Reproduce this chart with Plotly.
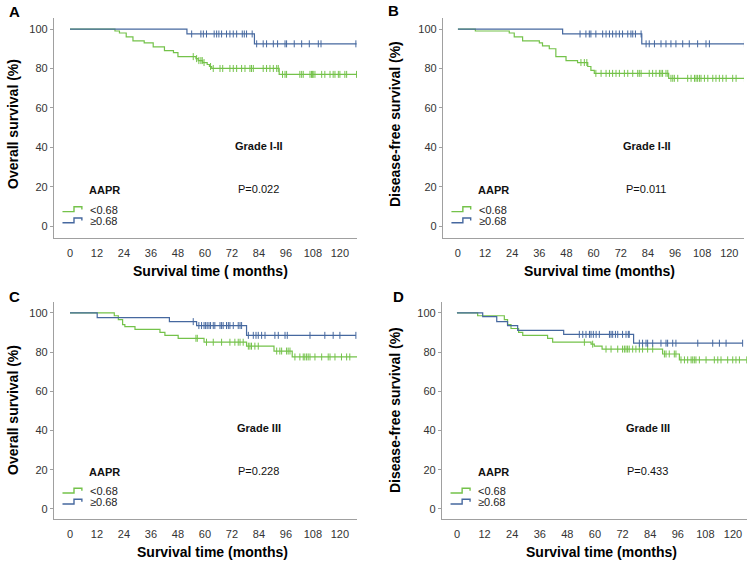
import numpy as np
import plotly.graph_objects as go

# ---- data (months, survival %) ----
# panel A: overall survival, grade I-II
a_low_t = [0, 20, 22, 25, 28, 33, 37, 42, 46, 48, 56, 57, 59, 61, 62, 63, 93]
a_low_s = [100, 99, 98, 96, 94, 93, 91, 89, 88, 86, 85, 84, 83, 82, 81, 80, 77]
a_low_end = 127.5
a_low_cens = [54.8, 56.3, 57.3, 58.2, 58.8, 59.6, 62.5, 63.7, 66.7, 67.9, 71.1, 72.6, 74.1, 76.3,
              77.8, 80.0, 80.7, 81.5, 85.9, 87.4, 88.9, 90.4, 91.9, 92.6, 94.5, 95.6, 96.3, 102.2,
              103.0, 103.7, 106.7, 107.4, 107.9, 108.1, 108.9, 111.9, 113.3, 115.6, 117.0, 117.8,
              119.3, 120.0, 122.2, 123.0, 127.4]
a_high_t = [0, 52, 82]
a_high_s = [100, 97.5, 92.5]
a_high_end = 127.4
a_high_cens = [54.1, 58.2, 59.3, 60.7, 64.1, 65.2, 66.2, 67.4, 69.6, 71.1, 72.6, 74.1, 76.6, 77.5,
               78.5, 81.0, 83.0, 85.9, 87.4, 90.4, 92.3, 95.6, 96.3, 99.7, 103.0, 106.4, 110.4,
               111.6, 127.1]

# panel B: disease-free survival, grade I-II
b_low_t = [0, 7.7, 22.7, 24.9, 28.6, 36, 37.4, 40.4, 43.3, 47.8, 52.9, 57.4, 58.8, 60.3, 93.2]
b_low_s = [100, 99, 98, 96, 94, 93, 91.5, 90, 86, 84, 83, 81, 79, 77.5, 75]
b_low_end = 126.9
b_low_cens = [54.4, 55.9, 57.0, 61.0, 63.3, 65.5, 67.0, 68.4, 69.9, 71.4, 73.6, 75.1, 77.3, 79.5,
              80.2, 81.0, 84.6, 86.1, 87.6, 89.1, 89.8, 90.5, 92.0, 92.8, 94.2, 95.0, 95.7, 97.2,
              101.6, 103.1, 104.6, 105.3, 106.0, 106.8, 107.5, 109.0, 110.5, 112.7, 114.1, 115.6,
              117.1, 118.6, 121.5, 123.0, 126.7]
b_high_t = [0, 46.3, 81.3]
b_high_s = [100, 97.5, 92.5]
b_high_end = 126.9
b_high_cens = [54.0, 56.6, 58.1, 58.8, 61.0, 64.0, 65.5, 67.0, 68.4, 69.9, 71.4, 72.8, 75.1, 76.5,
               77.3, 78.5, 81.0, 83.2, 84.6, 86.9, 89.8, 92.0, 94.2, 96.4, 99.4, 102.3, 106.0,
               109.7, 111.2, 126.7]

# panel C: overall survival, grade III
c_low_t = [0, 19.7, 21.5, 23.4, 24.4, 28.9, 40.0, 42.2, 48.1, 59.6, 78.5, 90.7, 98.8]
c_low_s = [100, 98.5, 96.5, 94, 93, 91.5, 90, 88.5, 87, 85, 83, 80.5, 77.5]
c_low_end = 128.6
c_low_cens = [56.0, 56.6, 60.7, 63.7, 67.4, 71.1, 73.3, 74.8, 75.6, 77.0, 79.3, 80.0, 80.7, 82.2,
              83.7, 91.9, 93.3, 94.1, 96.3, 97.0, 97.8, 100.0, 102.2, 103.7, 104.4, 105.2, 105.9,
              106.7, 108.9, 111.9, 114.8, 115.6, 117.8, 120.7, 123.0, 124.4]
c_high_t = [0, 12.1, 44.2, 56.3, 78.5]
c_high_s = [100, 97.5, 95.5, 93.5, 88.5]
c_high_end = 127.1
c_high_cens = [54.8, 57.3, 58.5, 59.6, 60.3, 61.0, 61.8, 62.5, 63.7, 64.4, 66.7, 67.4, 68.1, 69.6,
               70.4, 71.1, 72.6, 74.8, 75.6, 76.3, 79.3, 81.5, 82.7, 83.7, 85.2, 86.7, 91.1, 92.6,
               95.6, 96.6, 106.7, 113.3, 117.0, 120.0, 127.1]

# panel D: disease-free survival, grade III
d_low_t = [0, 9.0, 20.6, 22.0, 23.5, 26.8, 28.6, 39.4, 41.6, 58.3, 59.7, 63.1, 89.4, 96.7]
d_low_s = [100, 98.5, 96.5, 94, 92, 90, 88.5, 87, 85, 84, 83, 81.5, 79, 76]
d_low_end = 126.0
d_low_cens = [55.4, 59.0, 64.8, 67.0, 69.9, 72.0, 72.8, 73.5, 74.2, 74.9, 76.4, 77.8, 79.3, 80.7,
              82.9, 85.1, 90.2, 90.9, 92.3, 94.5, 95.2, 97.4, 98.9, 100.3, 101.8, 102.5, 103.2,
              103.9, 105.4, 108.3, 111.9, 113.4, 114.8, 117.7, 119.9, 121.3, 122.8, 126.0]
d_high_t = [0, 11.2, 17.3, 22.0, 26.4, 46.4, 76.8]
d_high_s = [100, 98, 95.5, 93.5, 91, 89, 84.5]
d_high_end = 124.2
d_high_cens = [53.2, 54.7, 56.1, 57.6, 58.3, 59.3, 60.5, 61.9, 66.3, 67.0, 67.7, 68.9, 69.9, 72.0,
               73.5, 74.5, 74.9, 79.3, 80.7, 82.2, 82.9, 85.1, 88.7, 90.9, 91.6, 93.8, 95.2, 104.7,
               111.2, 114.1, 117.0, 124.2]

letters = ["A", "B", "C", "D"]
y_titles = ["Overall survival (%)", "Disease-free survival (%)",
            "Overall survival (%)", "Disease-free survival (%)"]
x_titles = ["Survival time ( months)", "Survival time (months)",
            "Survival time (months)", "Survival time (months)"]
grades = ["Grade I-II", "Grade I-II", "Grade III", "Grade III"]
p_values = ["P=0.022", "P=0.011", "P=0.228", "P=0.433"]
groups = ["<0.68", "≥0.68"]
x_ticks = list(range(0, 121, 12))
y_ticks = [0, 20, 40, 60, 80, 100]

GREEN = "#74c24a"
BLUE = "#46689f"
FONT = "Arial, Liberation Sans, sans-serif"
W, H = 753, 565

curves = [
    [(a_low_t, a_low_s, a_low_end, a_low_cens), (a_high_t, a_high_s, a_high_end, a_high_cens)],
    [(b_low_t, b_low_s, b_low_end, b_low_cens), (b_high_t, b_high_s, b_high_end, b_high_cens)],
    [(c_low_t, c_low_s, c_low_end, c_low_cens), (c_high_t, c_high_s, c_high_end, c_high_cens)],
    [(d_low_t, d_low_s, d_low_end, d_low_cens), (d_high_t, d_high_s, d_high_end, d_high_cens)],
]

# pixel boxes of each plot area: left, right, top, bottom
boxes = [(54, 357, 18, 238), (443, 744, 18, 238), (54, 357, 302, 519), (442, 747, 302, 519)]
x_ranges = [[-7.1, 127.6], [-6.6, 126.5], [-7.1, 127.6], [-6.5, 126.1]]
y_ranges = [[-6, 105.6], [-6, 105.6], [-5.1, 105.5], [-5.1, 105.5]]
letter_pos = [(14, 12), (393, 10), (14, 296), (398, 296)]
ytitle_x = [13, 395, 13, 395]
ytitle_y = [124, 124, 410, 410]
xtitle_pos = [(211, 271), (599, 271), (212, 552), (601, 552)]

fig = go.Figure()
annotations = []
shapes = []


def step_value(t, s, x):
    i = np.searchsorted(np.array(t), x, side="right") - 1
    return s[i]


for k in range(4):
    xa = "x" if k == 0 else "x%d" % (k + 1)
    ya = "y" if k == 0 else "y%d" % (k + 1)
    L, R, T, B = boxes[k]
    for (t, s, end, cens), col in zip(curves[k], [GREEN, BLUE]):
        fig.add_trace(go.Scatter(x=list(t) + [end], y=list(s) + [s[-1]], mode="lines",
                                 line=dict(color=col, width=1.2, shape="hv"),
                                 xaxis=xa, yaxis=ya, showlegend=False, hoverinfo="skip"))
        cy = [step_value(t, s, c) for c in cens]
        fig.add_trace(go.Scatter(x=cens, y=cy, mode="markers",
                                 marker=dict(symbol="line-ns", size=5,
                                             line=dict(color=col, width=1)),
                                 xaxis=xa, yaxis=ya, showlegend=False, hoverinfo="skip"))

    axis_common = dict(showline=True, linecolor="#a0a0a0", linewidth=1.3, showgrid=False,
                       zeroline=False, tickfont=dict(family=FONT, size=11, color="#333333"))
    fig.layout["xaxis" if k == 0 else "xaxis%d" % (k + 1)] = dict(
        domain=[L / W, R / W], range=x_ranges[k], tickvals=x_ticks, ticks="", ticklen=0,
        ticklabelstandoff=5, anchor=ya, **axis_common)
    fig.layout["yaxis" if k == 0 else "yaxis%d" % (k + 1)] = dict(
        domain=[1 - B / H, 1 - T / H], range=y_ranges[k], tickvals=y_ticks, ticks="outside",
        ticklen=3, tickcolor="#a0a0a0", anchor=xa, **axis_common)

    xd = xa + " domain"
    yd = ya + " domain"
    # texts inside the panel
    annotations.append(dict(xref=xd, yref=yd, x=0.677, y=0.42, text="<b>%s</b>" % grades[k],
                            xanchor="center", yanchor="middle", showarrow=False,
                            font=dict(family=FONT, size=11, color="#111")))
    annotations.append(dict(xref=xd, yref=yd, x=0.675, y=0.222, text=p_values[k],
                            xanchor="center", yanchor="middle", showarrow=False,
                            font=dict(family=FONT, size=11, color="#111")))
    annotations.append(dict(xref=xd, yref=yd, x=0.11, y=0.218, text="<b>AAPR</b>",
                            xanchor="left", yanchor="middle", showarrow=False,
                            font=dict(family=FONT, size=11, color="#111")))
    for j, (lab, col) in enumerate(zip(groups, [GREEN, BLUE])):
        yc = 0.128 - j * 0.051
        annotations.append(dict(xref=xd, yref=yd, x=0.112, y=yc, text=lab,
                                xanchor="left", yanchor="middle", showarrow=False,
                                font=dict(family=FONT, size=11, color="#222")))
        x0, x1, x2 = 0.028, 0.066, 0.092
        yb, yt, ye = yc - 0.008, yc + 0.014, yc + 0.002
        shapes.append(dict(type="path", xref=xd, yref=yd,
                           path="M %f,%f L %f,%f L %f,%f L %f,%f L %f,%f" % (
                               x0, yb, x1, yb, x1, yt, x2, yt, x2, ye),
                           line=dict(color=col, width=1.4)))

    # panel letter and axis titles
    lx, ly = letter_pos[k]
    annotations.append(dict(xref="paper", yref="paper", x=lx / W, y=1 - ly / H,
                            text="<b>%s</b>" % letters[k], showarrow=False,
                            xanchor="center", yanchor="middle",
                            font=dict(family=FONT, size=15, color="#000")))
    annotations.append(dict(xref="paper", yref="paper", x=ytitle_x[k] / W,
                            y=1 - ytitle_y[k] / H, text="<b>%s</b>" % y_titles[k],
                            textangle=-90, showarrow=False,
                            xanchor="center", yanchor="middle",
                            font=dict(family=FONT, size=14, color="#000")))
    tx, ty = xtitle_pos[k]
    annotations.append(dict(xref="paper", yref="paper", x=tx / W, y=1 - ty / H,
                            text="<b>%s</b>" % x_titles[k], showarrow=False,
                            xanchor="center", yanchor="middle",
                            font=dict(family=FONT, size=14, color="#000")))

fig.update_layout(width=W, height=H, margin=dict(l=0, r=0, t=0, b=0),
                  paper_bgcolor="white", plot_bgcolor="white",
                  annotations=annotations, shapes=shapes, showlegend=False)

fig.write_html("out.html", config={"displayModeBar": False},
               post_script="document.body.style.margin='0';document.body.style.overflow='hidden';")
